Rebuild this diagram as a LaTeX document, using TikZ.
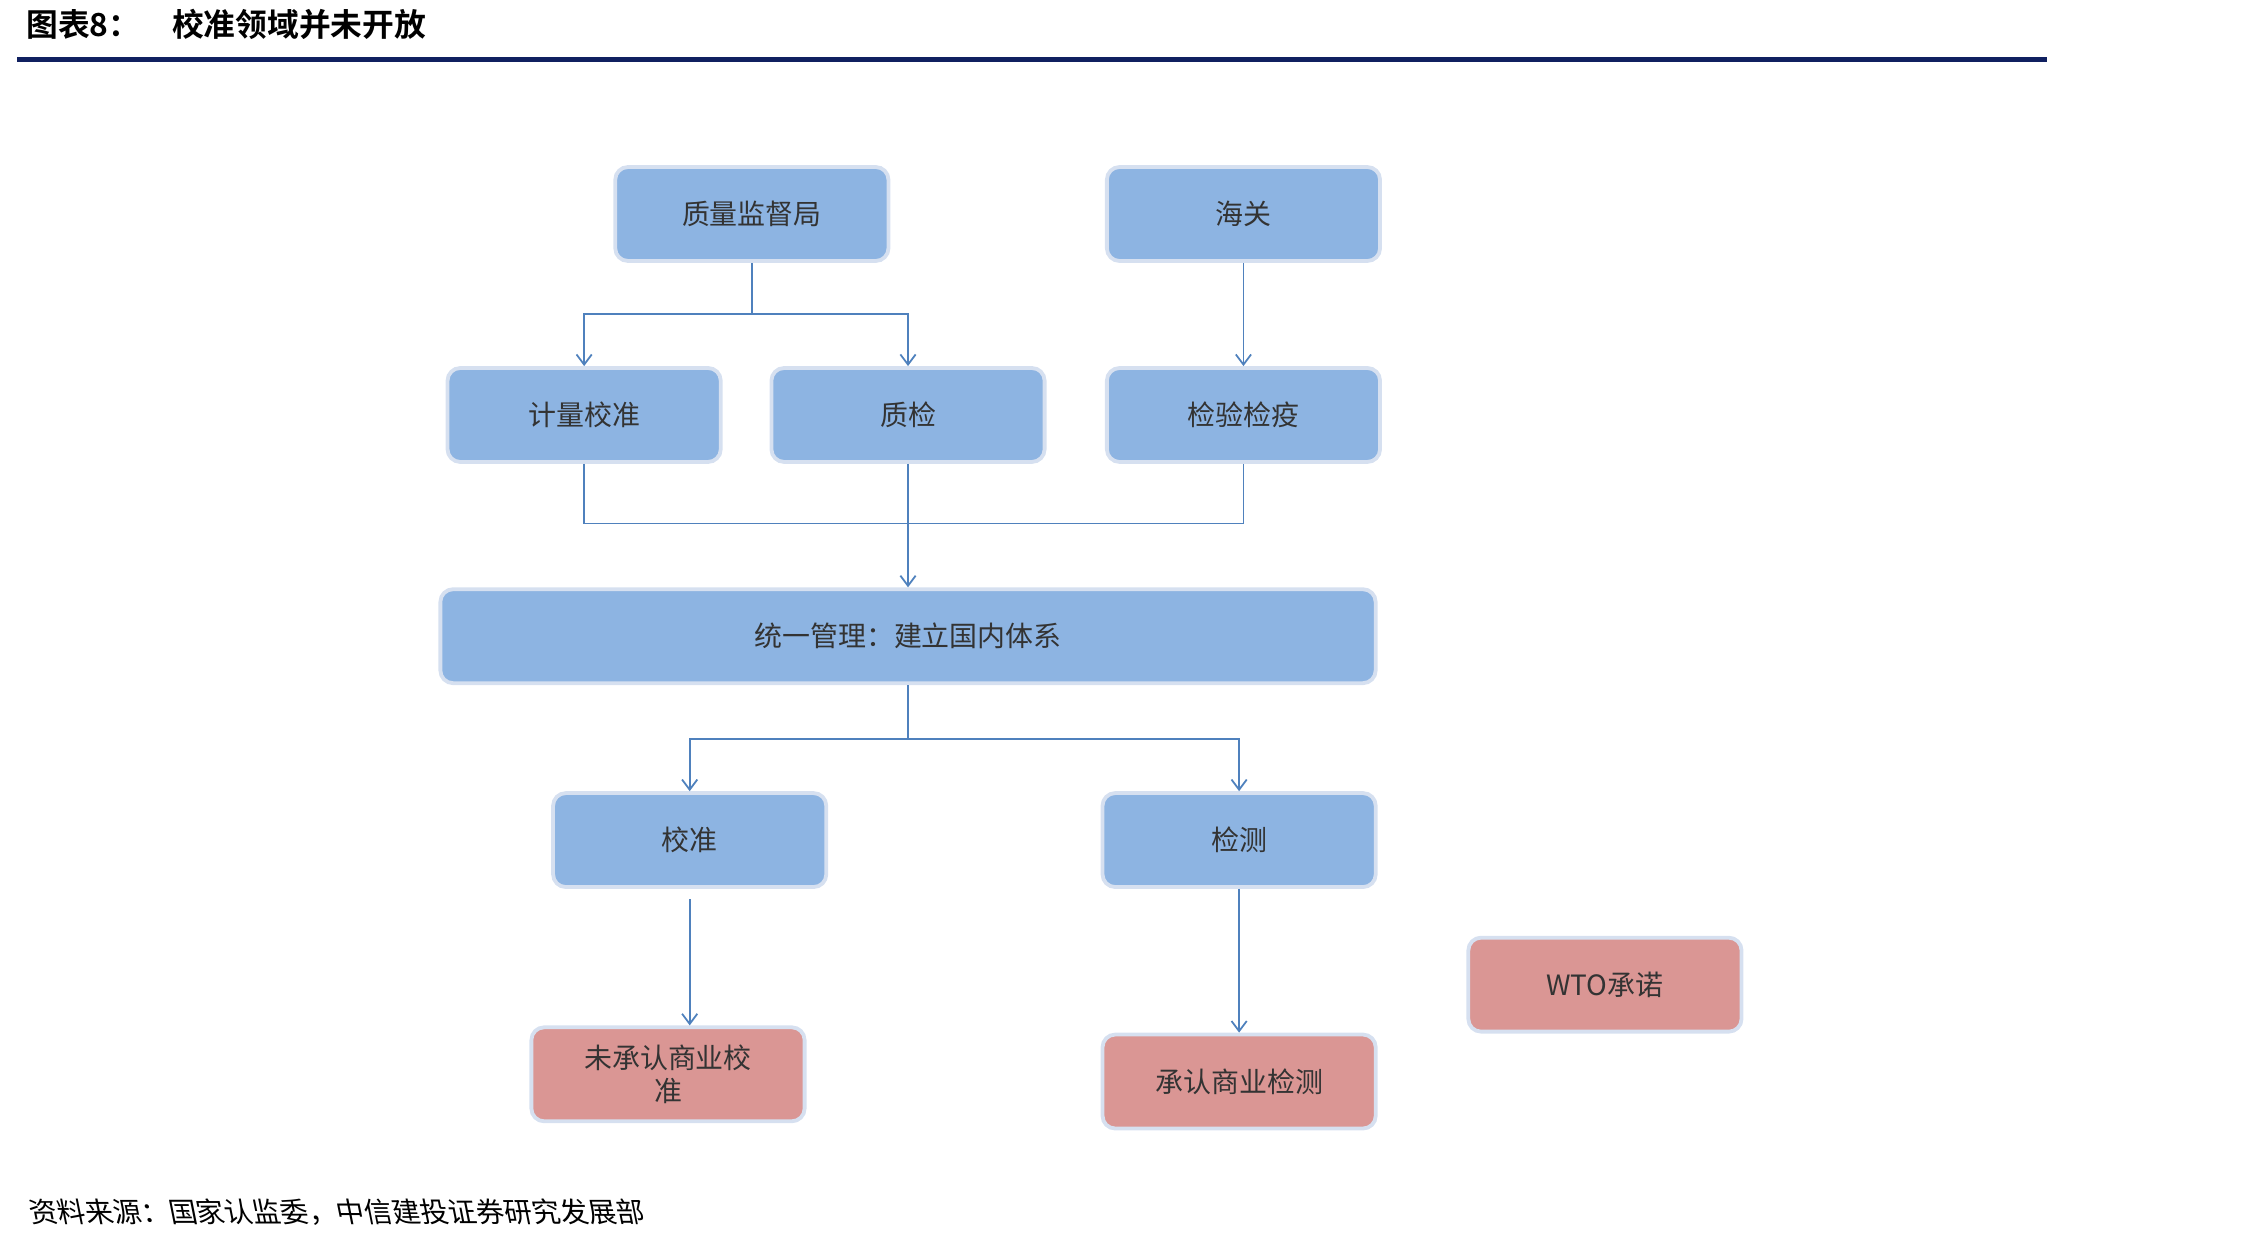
\documentclass[tikz,border=0pt]{standalone}
\usepackage{fontspec}
\setmainfont{Liberation Serif}
\newfontfamily\cjk{Noto Sans CJK SC}
\newfontfamily\cjkb{Noto Sans CJK SC Bold}
\usetikzlibrary{arrows.meta}
\definecolor{boxblue}{RGB}{141,180,226}
\definecolor{boxred}{RGB}{218,150,148}
\definecolor{lineblue}{RGB}{79,129,189}
\definecolor{edge}{RGB}{214,224,240}
\definecolor{navy}{RGB}{16,32,96}
\begin{document}
\begin{tikzpicture}[x=0.02cm,y=-0.02cm,
  box/.style={draw=edge,line width=1.5pt,rounded corners=5pt,fill=boxblue,minimum width=3.78cm,minimum height=1.3cm,inner sep=2pt,font=\cjk\fontsize{11}{13}\selectfont,align=center,text=black!80},
  rbox/.style={box,fill=boxred},
  conn/.style={draw=lineblue,line width=0.7pt},
  arr/.style={conn,-{Straight Barb[length=4pt,width=6pt]}}]
\useasboundingbox (0,0) rectangle (1552,853);
\node[anchor=west,font=\cjkb\fontsize{12.5}{14}\selectfont] (title) at (12,17) {图表8：\quad 校准领域并未开放};
\draw[navy,line width=2pt] (12,41) -- (1416,41);
\node[box] (zl) at (520,148) {质量监督局};
\node[box] (hg) at (860,148) {海关};
\node[box] (jl) at (404,287) {计量校准};
\node[box] (zj) at (628,287) {质检};
\node[box] (jy) at (860,287) {检验检疫};
\node[box,minimum width=12.94cm] (ty) at (628,440) {统一管理：建立国内体系};
\node[box] (xz) at (477,581) {校准};
\node[box] (jc) at (857,581) {检测};
\node[rbox,text width=3.3cm] (wcr) at (462,743) {未承认商业校\\准};
\node[rbox] (cr) at (857,748) {承认商业检测};
\node[rbox] (wto) at (1110,681) {WTO承诺};
\coordinate (a1) at (520,217);
\draw[conn] (zl.south) -- (a1);
\draw[arr] (a1) -| (jl.north);
\draw[arr] (a1) -| (zj.north);
\draw[arr] (hg.south) -- (jy.north);
\coordinate (a2) at (628,362);
\draw[conn] (jl.south) |- (a2) -| (jy.south);
\draw[arr] (zj.south) -- (ty.north);
\coordinate (a3) at (628,511);
\draw[conn] (ty.south) -- (a3);
\draw[arr] (a3) -| (xz.north);
\draw[arr] (a3) -| (jc.north);
\coordinate (b1) at (477,622);
\draw[arr] (b1) -- (b1 |- wcr.north);
\draw[arr] (jc.south) -- (cr.north);
\node[anchor=west,font=\cjk\itshape\fontsize{11}{13}\selectfont,xslant=-0.2] (src) at (14,838) {资料来源：国家认监委，中信建投证券研究发展部};
\end{tikzpicture}
\end{document}
